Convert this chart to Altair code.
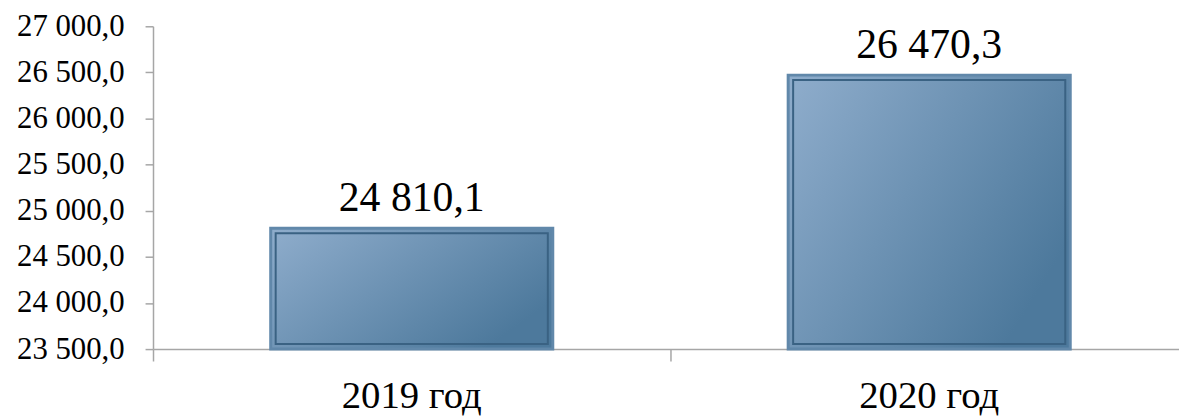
import altair as alt
import pandas as pd

categories = ["2019 год", "2020 год"]
values = [24810.1, 26470.3]
base_value = 23500
y_ticks = [23500, 24000, 24500, 25000, 25500, 26000, 26500, 27000]

df = pd.DataFrame({"cat": categories, "val": values, "base": [base_value] * len(values)})

FONT = "Liberation Serif"
fmt_expr = "replace(replace(format({v}, ',.1f'), ',', ' '), '.', ',')"

x_enc = alt.X(
    "cat:N",
    sort=categories,
    scale=alt.Scale(range=[0, 1042], paddingInner=0, paddingOuter=0),
    axis=alt.Axis(
        title=None,
        labelAngle=0,
        labelFont=FONT,
        labelFontSize=39,
        labelColor="#000000",
        labelPadding=16,
        tickSize=12,
        tickColor="#a6a6a6",
        domainColor="#a6a6a6",
        domainWidth=1.5,
        tickWidth=1.5,
        bandPosition=0,
        grid=False,
    ),
)
y_enc = alt.Y(
    "val:Q",
    scale=alt.Scale(domain=[23500, 27000], zero=False, nice=False),
    axis=alt.Axis(
        title=None,
        values=y_ticks,
        labelExpr=fmt_expr.format(v="datum.value"),
        labelFont=FONT,
        labelFontSize=31,
        labelColor="#000000",
        labelPadding=21,
        tickSize=8,
        tickColor="#a6a6a6",
        domainColor="#a6a6a6",
        domainWidth=1.5,
        tickWidth=1.5,
        grid=False,
    ),
)

gradient = {
    "gradient": "linear",
    "x1": 0, "y1": 0, "x2": 1, "y2": 0.6,
    "stops": [
        {"offset": 0, "color": "#8fadcc"},
        {"offset": 1, "color": "#4d799c"},
    ],
}

base = alt.Chart(df)

bars = base.mark_bar(
    size=284, fill=gradient, stroke="#6188aa", strokeWidth=3
).encode(x=x_enc, y=y_enc, y2="base:Q")

inner = base.mark_bar(
    size=274, fillOpacity=0, stroke="#3a6283", strokeWidth=2,
    yOffset=5, y2Offset=-5
).encode(x=x_enc, y=y_enc, y2="base:Q")

labels = base.transform_calculate(
    lbl=fmt_expr.format(v="datum.val")
).mark_text(
    font=FONT, fontSize=42, color="#000000", baseline="alphabetic", dy=-17
).encode(x=x_enc, y=y_enc, text="lbl:N")

chart = alt.layer(bars, inner, labels).properties(
    width=1033,
    height=325,
    padding={"left": 146, "top": 17, "right": 0, "bottom": 70},
    autosize=alt.AutoSizeParams(type="none"),
).configure(
    background="#ffffff",
    view=alt.ViewConfig(strokeOpacity=0, strokeWidth=0),
)

chart.save("out.html", embed_options={"renderer": "svg", "actions": False})
